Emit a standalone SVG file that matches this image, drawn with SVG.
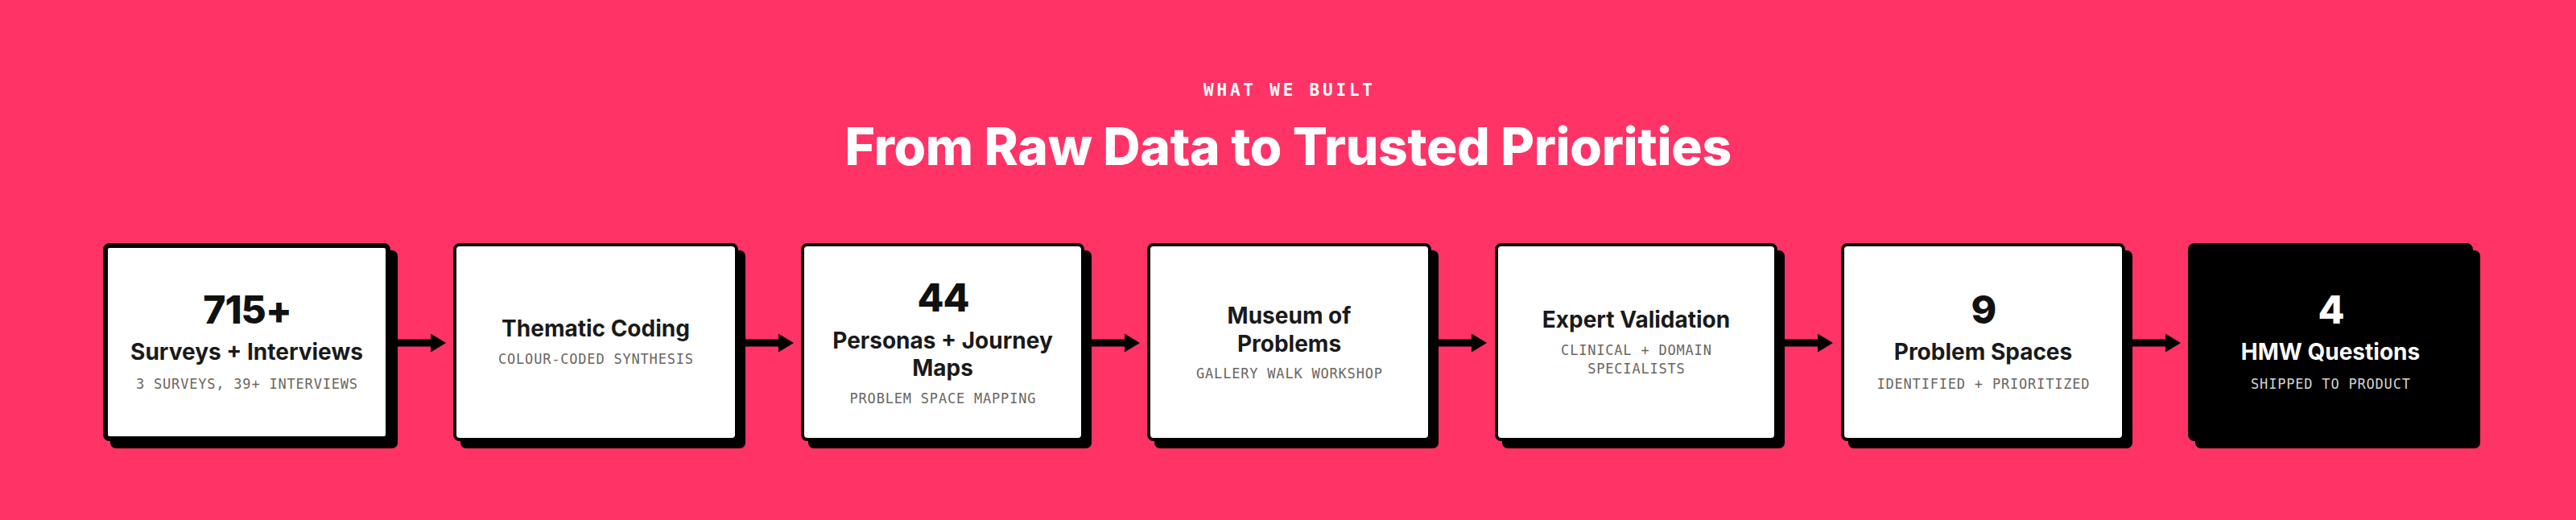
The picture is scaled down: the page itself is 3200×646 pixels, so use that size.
<svg xmlns="http://www.w3.org/2000/svg" width="3200" height="646" viewBox="0 0 3200 646">
<defs>
<style>
.bg{fill:#FF3366}
.shadow{fill:#000}
.box{fill:#fff;stroke:#000;stroke-width:4}
.box1{fill:#fff;stroke:#000;stroke-width:6}
.boxdark{fill:#000;stroke:#000;stroke-width:4}
.eyebrow{font-family:"DejaVu Sans Mono","Liberation Mono",monospace;font-weight:700;font-size:21px;letter-spacing:3.8px;fill:#fff;text-anchor:middle}
.headline{font-family:Inter,"Liberation Sans",sans-serif;font-weight:800;font-size:64px;letter-spacing:-0.3px;fill:#fff;text-anchor:middle}
.num{font-family:Inter,"Liberation Sans",sans-serif;font-weight:800;font-size:48px;letter-spacing:-1px;fill:#111;text-anchor:middle}
.ttl{font-family:Inter,"Liberation Sans",sans-serif;font-weight:700;font-size:28px;fill:#1a1a1a;text-anchor:middle}
.sub{font-family:"DejaVu Sans Mono","Liberation Mono",monospace;font-size:17px;letter-spacing:0.8px;fill:#6b6660;text-anchor:middle}
.dark .num,.dark .ttl{fill:#fff}
.dark .sub{fill:#d6d2ce}
.conn line{stroke:#000;stroke-width:9}
</style>
<marker id="ah" viewBox="0 0 19 23" refX="0" refY="11.5" markerWidth="19" markerHeight="23" markerUnits="userSpaceOnUse" orient="auto">
<path d="M0,0 L19,11.5 L0,23 Z" fill="#000"/>
</marker>
</defs>
<rect class="bg" x="0" y="0" width="3200" height="646"/>
<text class="eyebrow" x="1601.9" y="119">WHAT WE BUILT</text>
<text class="headline" x="1600.2" y="205">From Raw Data to Trusted Priorities</text>

<g id="connectors" class="conn">
<line x1="494" y1="426" x2="535" y2="426" marker-end="url(#ah)"/>
<line x1="926" y1="426" x2="967" y2="426" marker-end="url(#ah)"/>
<line x1="1356" y1="426" x2="1397" y2="426" marker-end="url(#ah)"/>
<line x1="1787" y1="426" x2="1828" y2="426" marker-end="url(#ah)"/>
<line x1="2217" y1="426" x2="2258" y2="426" marker-end="url(#ah)"/>
<line x1="2649" y1="426" x2="2690" y2="426" marker-end="url(#ah)"/>
</g>

<g id="node1">
<rect class="shadow" x="137" y="311" width="357" height="246" rx="7"/>
<rect class="box1" x="131" y="305" width="351" height="240" rx="5"/>
<text class="num" x="307" y="402">715+</text>
<text class="ttl" x="306.5" y="447">Surveys + Interviews</text>
<text class="sub" x="306.9" y="483">3 SURVEYS, 39+ INTERVIEWS</text>
</g>

<g id="node2">
<rect class="shadow" x="572" y="311" width="354" height="246" rx="7"/>
<rect class="box" x="565" y="304" width="350" height="242" rx="6"/>
<text class="ttl" x="740" y="418">Thematic Coding</text>
<text class="sub" x="740.4" y="452">COLOUR-CODED SYNTHESIS</text>
</g>

<g id="node3">
<rect class="shadow" x="1004" y="311" width="352" height="246" rx="7"/>
<rect class="box" x="997" y="304" width="348" height="242" rx="6"/>
<text class="num" x="1171.5" y="387">44</text>
<text class="ttl" x="1171" y="433">Personas + Journey</text>
<text class="ttl" x="1171" y="466.5">Maps</text>
<text class="sub" x="1171.4" y="501">PROBLEM SPACE MAPPING</text>
</g>

<g id="node4">
<rect class="shadow" x="1434" y="311" width="353" height="246" rx="7"/>
<rect class="box" x="1427" y="304" width="349" height="242" rx="6"/>
<text class="ttl" x="1601.5" y="402">Museum of</text>
<text class="ttl" x="1601.5" y="436.5">Problems</text>
<text class="sub" x="1601.9" y="470">GALLERY WALK WORKSHOP</text>
</g>

<g id="node5">
<rect class="shadow" x="1866" y="311" width="351" height="246" rx="7"/>
<rect class="box" x="1859" y="304" width="347" height="242" rx="6"/>
<text class="ttl" x="2032.5" y="407">Expert Validation</text>
<text class="sub" x="2032.9" y="441">CLINICAL + DOMAIN</text>
<text class="sub" x="2032.9" y="464">SPECIALISTS</text>
</g>

<g id="node6">
<rect class="shadow" x="2296" y="311" width="353" height="246" rx="7"/>
<rect class="box" x="2289" y="304" width="349" height="242" rx="6"/>
<text class="num" x="2464" y="402">9</text>
<text class="ttl" x="2463.5" y="447">Problem Spaces</text>
<text class="sub" x="2463.9" y="483">IDENTIFIED + PRIORITIZED</text>
</g>

<g id="node7" class="dark">
<rect class="shadow" x="2727" y="311" width="354" height="246" rx="7"/>
<rect class="boxdark" x="2720" y="304" width="350" height="242" rx="6"/>
<text class="num" x="2895.5" y="402">4</text>
<text class="ttl" x="2895" y="447">HMW Questions</text>
<text class="sub" x="2895.4" y="483">SHIPPED TO PRODUCT</text>
</g>
</svg>
